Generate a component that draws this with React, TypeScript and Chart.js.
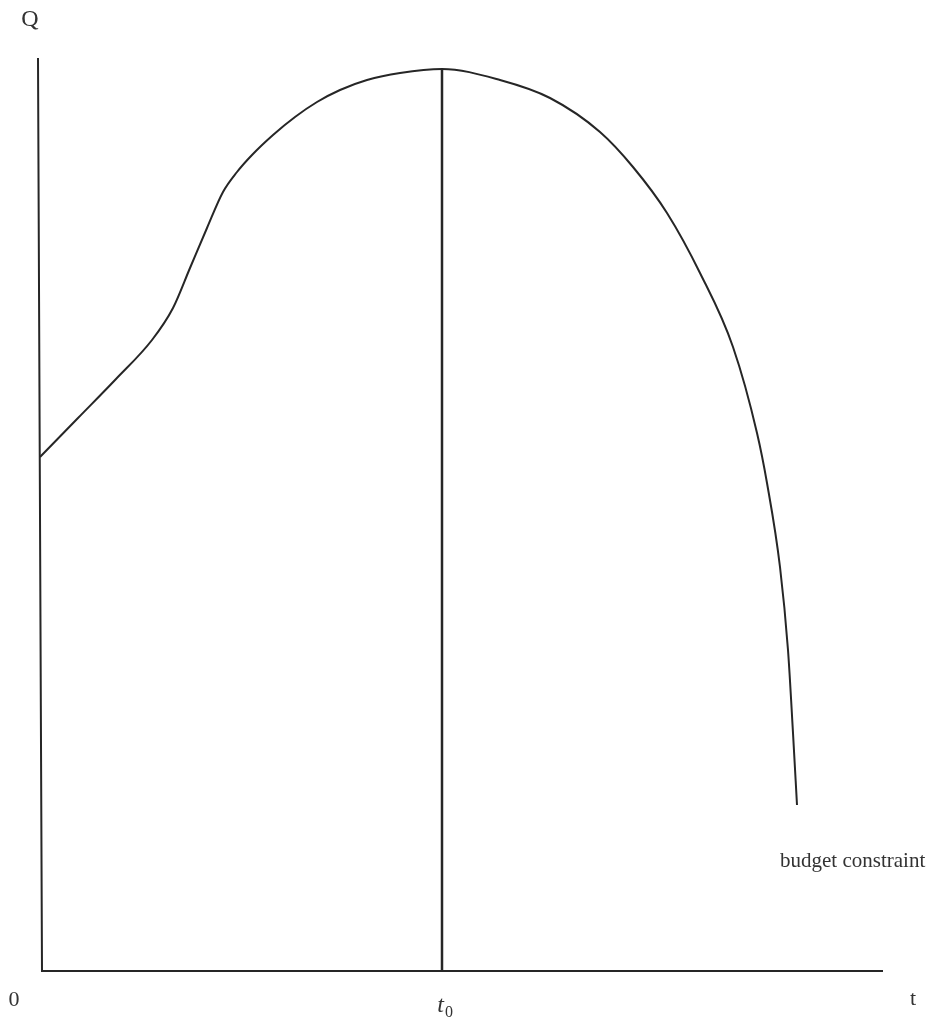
import React, { useEffect, useRef } from "react";
import { Chart, registerables } from "chart.js";

Chart.register(...registerables);

// budget constraint curve: time t vs quantity Q (arbitrary units)
const curveT = [0, 38, 76, 112, 133, 150, 167, 183, 197, 212, 233, 255, 277, 300, 327, 360, 402, 460, 510, 560, 593, 627, 660, 693, 717, 727, 740, 748, 753, 757];
const curveQ = [514, 553, 592, 631, 663, 703, 743, 779, 799, 816, 836, 854, 869, 881, 891, 898, 902, 891, 873, 839, 804, 758, 698, 624, 538, 488, 404, 321, 238, 166];
const t0Value = 402;
const t0Line = [0, 902];
const tMax = 843;
const qMax = 913;
const xAxisLabel = "t";
const yAxisLabel = "Q";
const originLabel = "0";
const curveLabel = "budget constraint";

export default function App() {
  const ref = useRef<HTMLCanvasElement | null>(null);
  useEffect(() => {
    if (!ref.current) return;
    const ink = "#262626";
    const textPlugin = {
      id: "annot",
      afterDraw(chart: any) {
        const ctx = chart.ctx;
        const xs = chart.scales.x;
        const ys = chart.scales.y;
        const ca = chart.chartArea;
        ctx.save();
        // axes
        ctx.strokeStyle = ink;
        ctx.lineWidth = 2;
        ctx.beginPath();
        ctx.moveTo(ca.left - 2, ca.top);
        ctx.lineTo(ca.left + 2, ca.bottom);
        ctx.lineTo(ca.right, ca.bottom);
        ctx.stroke();
        ctx.fillStyle = "#333";
        ctx.font = "24px 'Liberation Serif'";
        ctx.textAlign = "center";
        ctx.textBaseline = "middle";
        ctx.fillText(yAxisLabel, ca.left - 10, 20);
        ctx.font = "22px 'Liberation Serif'";
        ctx.fillText(originLabel, 14, ca.bottom + 29);
        ctx.fillText(xAxisLabel, 913, ca.bottom + 28);
        const px = xs.getPixelForValue(t0Value);
        ctx.font = "italic 24px 'Liberation Serif'";
        ctx.textAlign = "right";
        ctx.fillText("t", px + 2, ca.bottom + 35);
        ctx.font = "16px 'Liberation Serif'";
        ctx.textAlign = "left";
        ctx.fillText("0", px + 3, ca.bottom + 42);
        ctx.font = "21px 'Liberation Serif'";
        ctx.textAlign = "left";
        ctx.fillText(curveLabel, 780, ys.getPixelForValue(curveQ[curveQ.length - 1]) + 56, 146);
        ctx.restore();
      },
    };
    const chart = new Chart(ref.current, {
      type: "line",
      data: {
        datasets: [
          {
            data: curveT.map((t, i) => ({ x: t, y: curveQ[i] })),
            borderColor: ink,
            borderWidth: 2,
            pointRadius: 0,
            cubicInterpolationMode: "monotone",
            fill: false,
          },
          {
            data: t0Line.map((q) => ({ x: t0Value, y: q })),
            borderColor: ink,
            borderWidth: 2.5,
            pointRadius: 0,
            fill: false,
          },
        ],
      },
      options: {
        animation: false,
        responsive: false,
        maintainAspectRatio: false,
        layout: { padding: { left: 40, right: 48, top: 58, bottom: 57 } },
        plugins: { legend: { display: false }, tooltip: { enabled: false } },
        scales: {
          x: { type: "linear", min: 0, max: tMax, display: false },
          y: { type: "linear", min: 0, max: qMax, display: false },
        },
      },
      plugins: [textPlugin],
    });
    return () => chart.destroy();
  }, []);
  return (
    <div style={{ position: "absolute", left: 0, top: 0, width: 931, height: 1028, background: "#fff" }}>
      <canvas ref={ref} width={931} height={1028} style={{ width: 931, height: 1028, display: "block" }} />
    </div>
  );
}
